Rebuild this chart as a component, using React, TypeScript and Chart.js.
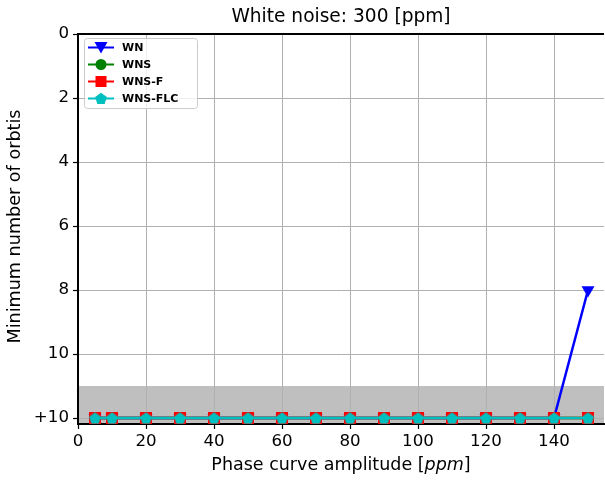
import React, { useEffect, useRef } from "react";
import { Chart, registerables } from "chart.js";

Chart.register(...registerables);

const xValues = [5, 10, 20, 30, 40, 50, 60, 70, 80, 90, 100, 110, 120, 130, 140, 150];
const wnValues = [12, 12, 12, 12, 12, 12, 12, 12, 12, 12, 12, 12, 12, 12, 12, 8];
const wnsValues = [12, 12, 12, 12, 12, 12, 12, 12, 12, 12, 12, 12, 12, 12, 12, 12];
const wnsfValues = [12, 12, 12, 12, 12, 12, 12, 12, 12, 12, 12, 12, 12, 12, 12, 12];
const wnsflcValues = [12, 12, 12, 12, 12, 12, 12, 12, 12, 12, 12, 12, 12, 12, 12, 12];
const seriesNames = ["WN", "WNS", "WNS-F", "WNS-FLC"];
const xTicks = [0, 20, 40, 60, 80, 100, 120, 140];
const yTicks = [0, 2, 4, 6, 8, 10, 12];
const yTickLabels = ["0", "2", "4", "6", "8", "10", "+10"];
const bandRange = [11, 12.1875];
const titleText = "White noise: 300 [ppm]";
const xTitle = ["Phase curve amplitude [", "ppm", "]"];
const yTitle = "Minimum number of orbtis";

const FONT = "'DejaVu Sans', sans-serif";
const colors = ["#0000ff", "#008000", "#ff0000", "#00bfbf"];

function drawPentagon(ctx: CanvasRenderingContext2D, cx: number, cy: number, r: number, color: string) {
  ctx.beginPath();
  for (let i = 0; i < 5; i++) {
    const a = -Math.PI / 2 + (i * 2 * Math.PI) / 5;
    const px = cx + r * Math.cos(a);
    const py = cy + r * Math.sin(a);
    if (i === 0) ctx.moveTo(px, py);
    else ctx.lineTo(px, py);
  }
  ctx.closePath();
  ctx.fillStyle = color;
  ctx.fill();
}

function makePentagon(r: number, color: string) {
  const c = document.createElement("canvas");
  const s = Math.ceil(r * 2 + 2);
  c.width = s;
  c.height = s;
  const ctx = c.getContext("2d")!;
  drawPentagon(ctx, s / 2, s / 2 + r * 0.1, r, color);
  return c;
}

function drawMarker(ctx: CanvasRenderingContext2D, idx: number, x: number, y: number) {
  const col = colors[idx];
  ctx.save();
  ctx.fillStyle = col;
  if (idx === 0) {
    ctx.beginPath();
    ctx.moveTo(x - 6.5, y - 5.5);
    ctx.lineTo(x + 6.5, y - 5.5);
    ctx.lineTo(x, y + 6);
    ctx.closePath();
    ctx.fill();
  } else if (idx === 1) {
    ctx.beginPath();
    ctx.arc(x, y, 5.5, 0, Math.PI * 2);
    ctx.fill();
  } else if (idx === 2) {
    ctx.fillRect(x - 5.5, y - 5.5, 11, 11);
  } else {
    drawPentagon(ctx, x, y + 0.5, 6.2, col);
  }
  ctx.restore();
}

const decorPlugin = {
  id: "decor",
  beforeDraw(chart: any) {
    const { ctx, chartArea, scales } = chart;
    const y1 = scales.y.getPixelForValue(bandRange[0]);
    const y2 = scales.y.getPixelForValue(bandRange[1]);
    ctx.save();
    ctx.fillStyle = "#bfbfbf";
    ctx.fillRect(chartArea.left, y1, chartArea.right - chartArea.left, y2 - y1);
    ctx.restore();
  },
  afterDraw(chart: any) {
    const { ctx, chartArea } = chart;
    ctx.save();
    // top spine
    ctx.strokeStyle = "#000";
    ctx.lineWidth = 2;
    ctx.beginPath();
    ctx.moveTo(chartArea.left - 1, chartArea.top);
    ctx.lineTo(chartArea.right, chartArea.top);
    ctx.stroke();

    // title
    const cx = (chartArea.left + chartArea.right) / 2;
    ctx.fillStyle = "#000";
    ctx.font = `18.6px ${FONT}`;
    ctx.textAlign = "center";
    ctx.textBaseline = "middle";
    ctx.fillText(titleText, cx, 17);

    // x title with italic part
    ctx.textAlign = "left";
    const f1 = `17.5px ${FONT}`;
    const f2 = `italic 17.5px ${FONT}`;
    ctx.font = f1;
    const w1 = ctx.measureText(xTitle[0]).width;
    const w3 = ctx.measureText(xTitle[2]).width;
    ctx.font = f2;
    const w2 = ctx.measureText(xTitle[1]).width;
    let sx = cx - (w1 + w2 + w3) / 2;
    const ty = 465;
    ctx.font = f1;
    ctx.fillText(xTitle[0], sx, ty);
    sx += w1;
    ctx.font = f2;
    ctx.fillText(xTitle[1], sx, ty);
    sx += w2;
    ctx.font = f1;
    ctx.fillText(xTitle[2], sx, ty);

    // y title
    ctx.save();
    ctx.translate(15, 226.5);
    ctx.rotate(-Math.PI / 2);
    ctx.textAlign = "center";
    ctx.font = `17.6px ${FONT}`;
    ctx.fillText(yTitle, 0, 0);
    ctx.restore();

    // legend
    const lx = chartArea.left + 6;
    const ly = chartArea.top + 4;
    const lw = 113;
    const lh = 70;
    ctx.fillStyle = "rgba(255,255,255,0.8)";
    ctx.strokeStyle = "#cccccc";
    ctx.lineWidth = 1;
    ctx.beginPath();
    (ctx as any).roundRect(lx + 0.5, ly + 0.5, lw, lh, 3);
    ctx.fill();
    ctx.stroke();
    for (let i = 0; i < seriesNames.length; i++) {
      const ey = ly + 9.5 + i * 17;
      ctx.strokeStyle = colors[i];
      ctx.lineWidth = 2;
      ctx.beginPath();
      ctx.moveTo(lx + 4, ey);
      ctx.lineTo(lx + 30, ey);
      ctx.stroke();
      drawMarker(ctx, i, lx + 17, ey);
      ctx.fillStyle = "#000";
      ctx.font = `bold 11px ${FONT}`;
      ctx.textAlign = "left";
      ctx.textBaseline = "middle";
      ctx.fillText(seriesNames[i], lx + 38, ey + 0.5);
    }
    ctx.restore();
  },
};

export default function App() {
  const ref = useRef<HTMLCanvasElement>(null);
  useEffect(() => {
    document.body.style.margin = "0";
    const pent = makePentagon(6.3, colors[3]);
    const mk = (arr: number[]) => xValues.map((x, i) => ({ x, y: arr[i] }));
    const chart = new Chart(ref.current!, {
      type: "line",
      data: {
        datasets: [
          {
            label: seriesNames[0],
            data: mk(wnValues),
            borderColor: colors[0],
            backgroundColor: colors[0],
            borderWidth: 2.5,
            pointStyle: "triangle",
            rotation: 180,
            pointRadius: 7.5,
            pointBorderWidth: 0,
            order: 4,
          },
          {
            label: seriesNames[1],
            data: mk(wnsValues),
            borderColor: colors[1],
            backgroundColor: colors[1],
            borderWidth: 2.5,
            pointStyle: "circle",
            pointRadius: 6,
            pointBorderWidth: 0,
            order: 3,
          },
          {
            label: seriesNames[2],
            data: mk(wnsfValues),
            borderColor: colors[2],
            backgroundColor: colors[2],
            borderWidth: 2.5,
            pointStyle: "rect",
            pointRadius: 8.5,
            pointBorderWidth: 0,
            order: 2,
          },
          {
            label: seriesNames[3],
            data: mk(wnsflcValues),
            borderColor: colors[3],
            backgroundColor: colors[3],
            borderWidth: 2.5,
            pointStyle: pent as any,
            pointRadius: 6.5,
            pointBorderWidth: 0,
            order: 1,
          },
        ],
      },
      options: {
        animation: false,
        responsive: false,
        layout: { autoPadding: false, padding: { top: 34, right: 1, left: 0, bottom: 0 } } as any,
        plugins: { legend: { display: false }, tooltip: { enabled: false }, title: { display: false } },
        scales: {
          x: {
            type: "linear",
            min: 0,
            max: 154.7,
            afterBuildTicks: (s: any) => {
              s.ticks = xTicks.map((v) => ({ value: v }));
            },
            afterFit: (s: any) => {
              s.height = 56;
              s.paddingLeft = 0;
              s.paddingRight = 0;
            },
            grid: { color: "#b0b0b0", lineWidth: 1, tickColor: "#000", tickLength: 5, tickWidth: 1.2 } as any,
            border: { color: "#000", width: 2 },
            ticks: { color: "#000", font: { family: FONT, size: 16.67 }, padding: 3, maxRotation: 0, autoSkip: false },
          },
          y: {
            type: "linear",
            reverse: true,
            min: 0,
            max: 12.1875,
            afterBuildTicks: (s: any) => {
              s.ticks = yTicks.map((v) => ({ value: v }));
            },
            afterFit: (s: any) => {
              s.width = 78;
              s.paddingTop = 0;
              s.paddingBottom = 0;
            },
            grid: { color: "#b0b0b0", lineWidth: 1, tickColor: "#000", tickLength: 5, tickWidth: 1.2 } as any,
            border: { color: "#000", width: 2 },
            ticks: {
              color: "#000",
              font: { family: FONT, size: 16.67 },
              padding: 4,
              autoSkip: false,
              callback: (v: any) => {
                const i = yTicks.indexOf(Number(v));
                return i >= 0 ? yTickLabels[i] : "";
              },
            },
          },
        },
      },
      plugins: [decorPlugin],
    });
    return () => chart.destroy();
  }, []);
  return (
    <div style={{ width: 605, height: 480 }}>
      <canvas ref={ref} width={605} height={480} style={{ display: "block" }} />
    </div>
  );
}
